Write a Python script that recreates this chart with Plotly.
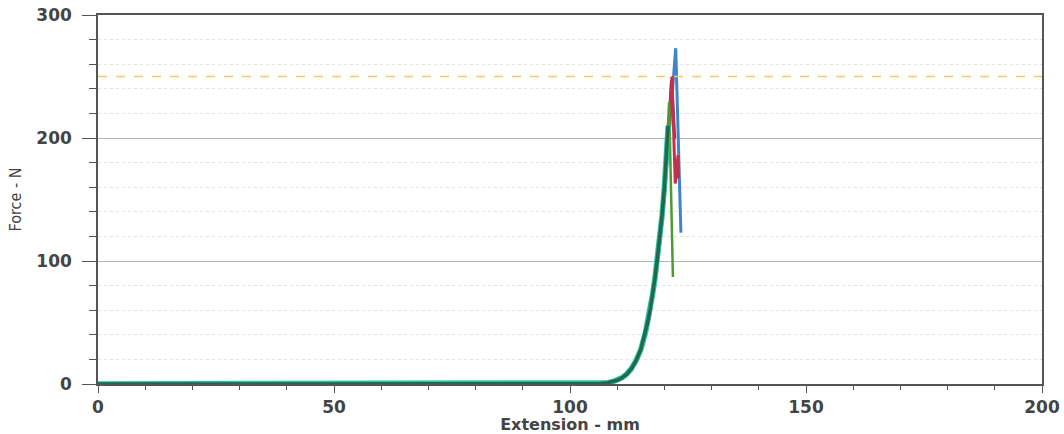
import plotly.graph_objects as go

# Specimen curves (Extension mm, Force N)
s_blue_x = [0, 50, 100, 106, 108, 109, 110, 111, 112, 113, 114, 115, 116, 116.5, 117, 117.5, 118, 118.5, 119, 119.5, 120, 120.5, 121, 121.5, 122.0, 122.4, 123.5]
s_blue_y = [0, 0, 0, 0.3, 1, 1.8, 3, 5, 8, 12, 18, 27, 40, 48, 58, 70, 83, 97, 113, 131, 153, 178, 205, 232, 258, 273, 123]

s_purple_x = [0, 50, 100, 106, 108, 109, 110, 111, 112, 113, 114, 115, 116, 116.5, 117, 117.5, 118, 118.5, 119, 119.5, 120, 120.5, 121, 121.5, 122.2]
s_purple_y = [0, 0, 0, 0.3, 1, 1.8, 3, 5, 8, 12.5, 19, 28, 41, 50, 60, 72, 85, 100, 116, 135, 158, 185, 215, 247, 200]

s_red_x = [0, 50, 100, 106, 108, 109, 110, 111, 112, 113, 114, 115, 116, 116.5, 117, 117.5, 118, 118.5, 119, 119.5, 120, 120.5, 121, 121.6, 122.3, 122.9, 123.0]
s_red_y = [0, 0, 0, 0.3, 1, 1.8, 3, 5, 8, 12.5, 19, 28, 41, 50, 60, 72, 85, 100, 116, 135, 158, 184, 213, 250, 163, 186, 167]

s_green_x = [0, 50, 100, 106, 108, 109, 110, 111, 112, 113, 114, 115, 116, 116.5, 117, 117.5, 118, 118.5, 119, 119.5, 120, 120.5, 121, 121.8]
s_green_y = [0, 0, 0, 0.3, 1, 1.9, 3.2, 5.3, 8.5, 13, 20, 29, 43, 52, 62, 75, 88, 104, 120, 140, 164, 192, 229, 87]

s_dark_x = [0, 50, 100, 106, 108, 109, 110, 111, 112, 113, 114, 115, 116, 116.5, 117, 117.5, 118, 118.5, 119, 119.5, 120, 120.5, 120.8]
s_dark_y = [0, 0, 0, 0.3, 1, 1.8, 3, 5, 8, 12.5, 19, 28, 42, 51, 61, 73, 86, 102, 118, 137, 160, 188, 210]

limit_force = 250
y_major = [0, 100, 200, 300]
x_major = [0, 50, 100, 150, 200]

fig = go.Figure()

series = [
    (s_blue_x, s_blue_y, "#3f86c6", 3),
    (s_purple_x, s_purple_y, "#7a3f9a", 3),
    (s_red_x, s_red_y, "#c2304e", 3),
    (s_green_x, s_green_y, "#4e9a2e", 2.5),
    (s_dark_x, s_dark_y, "#2fc0a4", 5.5),
    (s_dark_x, s_dark_y, "#1d6a4c", 3.5),
]
for xs, ys, col, w in series:
    fig.add_trace(go.Scatter(x=xs, y=ys, mode="lines",
                             line=dict(color=col, width=w),
                             showlegend=False, hoverinfo="skip"))

fig.add_trace(go.Scatter(x=[0, 200], y=[limit_force, limit_force], mode="lines",
                         line=dict(color="#f2c86a", width=1.5, dash="dash"),
                         showlegend=False, hoverinfo="skip"))

tickfont = dict(family="DejaVu Sans", size=17, color="#444444")

fig.update_layout(
    width=1064, height=434,
    margin=dict(l=98, r=22, t=15, b=50),
    paper_bgcolor="white", plot_bgcolor="white",
    xaxis=dict(
        range=[0, 200], tickvals=x_major, automargin=False, ticklabeloverflow="allow",
        ticktext=["<b>%d</b>" % v for v in x_major],
        tickfont=tickfont, ticks="outside", ticklen=7, tickcolor="#555",
        showgrid=False, zeroline=False,
        showline=True, linecolor="#555555", linewidth=1.5, mirror=True,
        minor=dict(dtick=10, ticks="outside", ticklen=4, tickcolor="#555", showgrid=False),
        title=dict(text="<b>Extension - mm</b>", font=dict(family="DejaVu Sans", size=16, color="#444444"), standoff=0),
    ),
    yaxis=dict(
        range=[0, 300], tickvals=y_major, automargin=False, ticklabeloverflow="allow",
        ticktext=["<b>%d</b>" % v for v in y_major],
        tickfont=tickfont, ticks="outside", ticklen=14, tickcolor="#555",
        ticklabelstandoff=7,
        showgrid=True, gridcolor="#b5b5b5", gridwidth=1, zeroline=False,
        showline=True, linecolor="#555555", linewidth=1.5, mirror=True,
        minor=dict(dtick=20, ticks="outside", ticklen=7, tickcolor="#555",
                   showgrid=True, gridcolor="#e2e2e2", griddash="dot", gridwidth=1),
        title=dict(text="Force - N", font=dict(family="Liberation Sans Narrow, DejaVu Sans Condensed", size=16, color="#444444"), standoff=11),
    ),
)

fig.write_html("out.html", config={"displayModeBar": False},
               post_script="document.body.style.margin='0';")
